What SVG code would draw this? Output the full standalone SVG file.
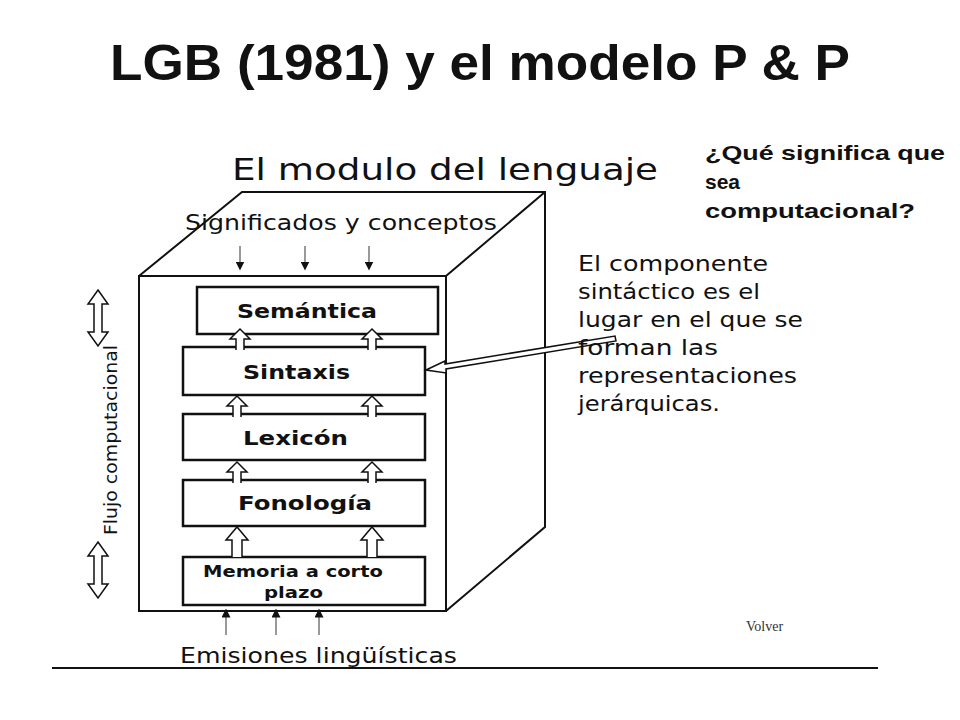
<svg xmlns="http://www.w3.org/2000/svg" width="960" height="720" viewBox="0 0 960 720">
<style>
.t{font-family:"DejaVu Sans","Liberation Sans",sans-serif;fill:#111}
.q{font-family:"Liberation Sans",Arial,sans-serif;fill:#111;font-weight:bold}
.b{fill:#fff;stroke:#111;stroke-width:2.5}
.l{fill:none;stroke:#111;stroke-width:2}
.h{fill:#fff;stroke:#111;stroke-width:1.5}
.g{stroke:#777;stroke-width:1.5}
</style>
<defs>
<marker id="ah" markerWidth="6" markerHeight="6" refX="3" refY="3" orient="auto"><path d="M0,0L6,3L0,6z" fill="#111"/></marker>
<path id="ua" d="M-4,2 L-4,-9 L-10,-9 L0,-19 L10,-9 L4,-9 L4,2"/>
<path id="da" d="M0,0 L10,14 L4,14 L4,42 L10,42 L0,56 L-10,42 L-4,42 L-4,14 L-10,14 Z"/>
</defs>
<text class="q" x="110" y="80" font-size="50" textLength="740" lengthAdjust="spacingAndGlyphs">LGB (1981) y el modelo P &amp; P</text>
<text class="q" x="705" y="160" font-size="21" textLength="240" lengthAdjust="spacingAndGlyphs">¿Qué significa que</text>
<text class="q" x="705" y="189" font-size="21">sea</text>
<text class="q" x="705" y="218" font-size="21" textLength="210" lengthAdjust="spacingAndGlyphs">computacional?</text>
<text x="746" y="631" font-size="14" font-family="Liberation Serif,serif" fill="#333">Volver</text>
<g id="cube">
<text class="t" x="232" y="180" font-size="31" textLength="426" lengthAdjust="spacingAndGlyphs">El modulo del lenguaje</text>
<path class="l" d="M139,276 L242,192 L545,192 L545,527 L446,611 M446,276 L545,192"/>
<rect class="l" x="139" y="276" width="307" height="335"/>
<text class="t" x="185" y="230" font-size="22" fill="#444" textLength="312" lengthAdjust="spacingAndGlyphs">Significados y conceptos</text>
<g class="g" marker-end="url(#ah)"><line x1="240" y1="246" x2="240" y2="266"/><line x1="305" y1="246" x2="305" y2="266"/><line x1="369" y1="246" x2="369" y2="266"/></g>
</g>
<g id="semantica"><rect class="b" x="197" y="287" width="241" height="47"/><text class="t" x="237" y="318" font-size="20" font-weight="bold" textLength="140" lengthAdjust="spacingAndGlyphs">Semántica</text></g>
<g id="sintaxis"><rect class="b" x="183" y="347" width="242" height="48"/><text class="t" x="243" y="379" font-size="20" font-weight="bold" textLength="107" lengthAdjust="spacingAndGlyphs">Sintaxis</text></g>
<g id="lexicon"><rect class="b" x="183" y="414" width="242" height="46"/><text class="t" x="243" y="445" font-size="20" font-weight="bold" textLength="105" lengthAdjust="spacingAndGlyphs">Lexicón</text></g>
<g id="fonologia"><rect class="b" x="183" y="480" width="242" height="46"/><text class="t" x="238" y="510" font-size="20" font-weight="bold" textLength="134" lengthAdjust="spacingAndGlyphs">Fonología</text></g>
<g id="memoria"><rect class="b" x="183" y="557" width="242" height="48"/><text class="t" x="203" y="577" font-size="15" font-weight="bold" textLength="180" lengthAdjust="spacingAndGlyphs">Memoria a corto</text><text class="t" x="264" y="598" font-size="15" font-weight="bold" textLength="59" lengthAdjust="spacingAndGlyphs">plazo</text></g>
<g id="arrows">
<g class="h"><use href="#ua" x="240" y="348"/><use href="#ua" x="372" y="348"/>
<use href="#ua" x="237" y="415"/><use href="#ua" x="372" y="415"/>
<use href="#ua" x="237" y="481"/><use href="#ua" x="372" y="481"/>
<path d="M232,557 L232,540 L226,540 L237,527 L248,540 L242,540 L242,557"/><path d="M367,557 L367,540 L361,540 L372,527 L383,540 L377,540 L377,557"/></g>
<path class="h" d="M426,370 L445,361 L445,364 L615,336 L616,341 L446,369 L446,373 Z"/>
</g>
<g id="inputs">
<g class="g" marker-end="url(#ah)"><line x1="226" y1="635" x2="226" y2="613"/><line x1="276" y1="635" x2="276" y2="613"/><line x1="319" y1="635" x2="319" y2="613"/></g>
<text class="t" x="180" y="663" font-size="22" fill="#333" textLength="277" lengthAdjust="spacingAndGlyphs">Emisiones lingüísticas</text>
</g>
<g id="flujo">
<use href="#da" x="98" y="290" class="h"/><use href="#da" x="98" y="542" class="h"/>
<text class="t" transform="translate(117,535) rotate(-90)" font-size="18" textLength="190" lengthAdjust="spacingAndGlyphs">Flujo computacional</text>
</g>
<g id="note" class="t" font-size="21" fill="#333" lengthAdjust="spacingAndGlyphs">
<text x="578" y="271" textLength="190" lengthAdjust="spacingAndGlyphs">El componente</text><text x="578" y="299" textLength="182" lengthAdjust="spacingAndGlyphs">sintáctico es el</text><text x="578" y="327" textLength="225" lengthAdjust="spacingAndGlyphs">lugar en el que se</text><text x="578" y="355" textLength="140" lengthAdjust="spacingAndGlyphs">forman las</text><text x="578" y="383" textLength="219" lengthAdjust="spacingAndGlyphs">representaciones</text><text x="578" y="411" textLength="142" lengthAdjust="spacingAndGlyphs">jerárquicas.</text>
</g>
<line x1="52" y1="668" x2="878" y2="668" stroke="#111" stroke-width="2"/>
</svg>
